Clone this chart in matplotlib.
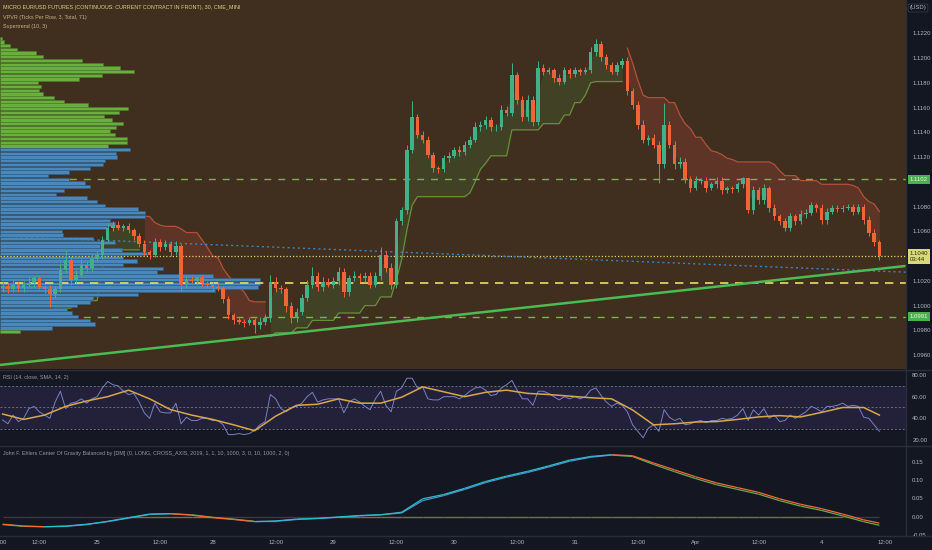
import numpy as np
import matplotlib
matplotlib.use("Agg")
import matplotlib.pyplot as plt
from matplotlib.patches import Rectangle
from matplotlib.collections import LineCollection
from matplotlib.transforms import blended_transform_factory

plt.rcParams['font.family'] = ['Liberation Sans', 'DejaVu Sans']

# ---------------- data (hourly candles, Micro EUR/USD) ----------------
first_open = 1.1014
closes = [
    1.1016, 1.1013, 1.1017, 1.1014, 1.1017, 1.1018, 1.1022, 1.1015, 1.1013, 1.1009,
    1.1013, 1.1029, 1.1037, 1.1021, 1.1025, 1.1033, 1.1030, 1.1038, 1.1041, 1.1053,
    1.1063, 1.1065, 1.1063, 1.1064, 1.1061, 1.1056, 1.1050, 1.1043, 1.1041, 1.1051,
    1.1047, 1.1050, 1.1043, 1.1048, 1.1017, 1.1021, 1.1020, 1.1022, 1.1018, 1.1017,
    1.1015, 1.1014, 1.1005, 1.0992, 1.0988, 1.0987, 1.0986, 1.0988, 1.0984, 1.0987,
    1.0990, 1.1019, 1.1014, 1.1013, 1.1000, 1.0990, 1.0995, 1.1006, 1.1017, 1.1024,
    1.1015, 1.1019, 1.1017, 1.1020, 1.1027, 1.1011, 1.1022, 1.1024, 1.1022, 1.1024,
    1.1017, 1.1024, 1.1041, 1.1030, 1.1017, 1.1068, 1.1077, 1.1126, 1.1152, 1.1138,
    1.1134, 1.1122, 1.1111, 1.1110, 1.1119, 1.1121, 1.1126, 1.1124, 1.1130, 1.1134,
    1.1144, 1.1146, 1.1150, 1.1144, 1.1144, 1.1158, 1.1156, 1.1186, 1.1166, 1.1152,
    1.1166, 1.1148, 1.1192, 1.1189, 1.1190, 1.1184, 1.1181, 1.1190, 1.1187, 1.1190,
    1.1189, 1.1190, 1.1205, 1.1211, 1.1201, 1.1194, 1.1189, 1.1194, 1.1198, 1.1173,
    1.1162, 1.1146, 1.1134, 1.1135, 1.1130, 1.1114, 1.1146, 1.1130, 1.1114, 1.1116,
    1.1102, 1.1095, 1.1101, 1.1101, 1.1095, 1.1098, 1.1101, 1.1093, 1.1095, 1.1094,
    1.1098, 1.1103, 1.1077, 1.1093, 1.1085, 1.1095, 1.1079, 1.1072, 1.1068, 1.1063,
    1.1072, 1.1068, 1.1074, 1.1075, 1.1081, 1.1079, 1.1069, 1.1076, 1.1079, 1.1078,
    1.1079, 1.1080, 1.1076, 1.1080, 1.1069, 1.1059, 1.1051, 1.1040,
]
# wick lengths above / below the body, in ticks of 0.0001
upper_wick = [
    3, 2, 4, 2, 3, 5, 2, 3, 2, 4,
    3, 5, 8, 3, 4, 5, 3, 4, 3, 3,
    4, 3, 3, 2, 3, 2, 3, 3, 2, 4,
    3, 3, 2, 4, 2, 3, 3, 2, 3, 2,
    2, 3, 2, 3, 2, 3, 2, 3, 2, 4,
    3, 6, 4, 3, 2, 3, 3, 3, 4, 7,
    3, 4, 3, 3, 4, 3, 3, 4, 2, 3,
    3, 3, 6, 3, 4, 3, 3, 4, 13, 3,
    3, 3, 2, 2, 3, 3, 2, 3, 3, 3,
    4, 3, 3, 2, 3, 4, 3, 10, 3, 3,
    4, 3, 6, 3, 3, 2, 3, 3, 2, 3,
    2, 3, 4, 4, 3, 2, 3, 3, 2, 3,
    3, 3, 4, 3, 4, 3, 18, 3, 3, 4,
    3, 3, 4, 2, 3, 2, 3, 3, 2, 2,
    2, 1, 0, 4, 3, 3, 2, 3, 2, 3,
    3, 2, 3, 3, 3, 2, 3, 3, 2, 2,
    2, 2, 2, 2, 2, 3, 3, 2,
]
lower_wick = [
    3, 3, 2, 3, 3, 2, 3, 2, 3, 10,
    3, 2, 3, 4, 3, 2, 3, 3, 2, 3,
    2, 3, 2, 3, 2, 3, 3, 2, 3, 2,
    3, 2, 3, 2, 5, 3, 2, 3, 2, 3,
    3, 2, 3, 3, 3, 2, 3, 2, 6, 3,
    3, 3, 3, 3, 5, 4, 3, 3, 2, 3,
    3, 3, 2, 3, 3, 4, 3, 2, 3, 3,
    3, 2, 3, 3, 4, 3, 3, 3, 3, 3,
    3, 3, 3, 3, 2, 3, 2, 3, 2, 3,
    2, 3, 3, 3, 3, 2, 3, 3, 3, 3,
    3, 3, 2, 3, 2, 3, 3, 2, 3, 2,
    3, 2, 2, 3, 3, 3, 2, 3, 2, 3,
    3, 3, 3, 4, 3, 15, 3, 3, 4, 3,
    3, 3, 2, 3, 3, 2, 3, 3, 2, 3,
    2, 3, 2, 3, 3, 3, 3, 3, 3, 3,
    3, 3, 2, 3, 2, 3, 3, 3, 2, 2,
    2, 2, 3, 2, 3, 3, 3, 3,
]
supertrend = [
    1.0995, 1.0995, 1.0995, 1.0995, 1.0995, 1.0995, 1.0995, 1.0995, 1.0995, 1.0995,
    1.0998, 1.0998, 1.0998, 1.0998, 1.1002, 1.1002, 1.1002, 1.1004, 1.1004, 1.1029,
    1.1041, 1.1045, 1.1045, 1.1045, 1.1045, 1.1045, 1.1045, 1.1072, 1.1072, 1.1067,
    1.1065, 1.1064, 1.1064, 1.1064, 1.1062, 1.1059, 1.1059, 1.1059, 1.1053, 1.1047,
    1.1040, 1.1039, 1.1030, 1.1024, 1.1019, 1.1015, 1.1011, 1.1004, 1.1003, 1.1003,
    1.1003, 1.0975, 1.0978, 1.0978, 1.0978, 1.0978, 1.0982, 1.0982, 1.0982, 1.0988,
    1.0988, 1.0988, 1.0988, 1.0988, 1.0994, 1.0994, 1.0994, 1.0994, 1.0994, 1.1000,
    1.1000, 1.1000, 1.1007, 1.1007, 1.1007, 1.1021, 1.1037, 1.1061, 1.1081, 1.1088,
    1.1088, 1.1088, 1.1088, 1.1088, 1.1088, 1.1088, 1.1088, 1.1088, 1.1088, 1.1091,
    1.1100, 1.1110, 1.1115, 1.1121, 1.1121, 1.1121, 1.1121, 1.1142, 1.1142, 1.1142,
    1.1142, 1.1142, 1.1142, 1.1147, 1.1147, 1.1147, 1.1147, 1.1154, 1.1154, 1.1164,
    1.1164, 1.1170, 1.1180, 1.1181, 1.1181, 1.1181, 1.1181, 1.1181, 1.1181, 1.1208,
    1.1196, 1.1182, 1.1170, 1.1168, 1.1168, 1.1168, 1.1168, 1.1164, 1.1164, 1.1154,
    1.1147, 1.1143, 1.1136, 1.1136, 1.1130, 1.1125, 1.1124, 1.1122, 1.1119, 1.1118,
    1.1116, 1.1116, 1.1116, 1.1116, 1.1116, 1.1116, 1.1116, 1.1114, 1.1109, 1.1105,
    1.1105, 1.1105, 1.1101, 1.1101, 1.1101, 1.1101, 1.1098, 1.1098, 1.1098, 1.1098,
    1.1098, 1.1098, 1.1097, 1.1095, 1.1088, 1.1084, 1.1082, 1.1076,
]
# volume profile rows (top row first), 3 ticks per row
vp_top_price = 1.1216
vp_row_size = 0.0003
vp_volume = [
    2, 4, 10, 17, 36, 43, 82, 103, 120, 134, 102, 79, 38, 41, 39, 43, 54, 64, 88, 128,
    119, 104, 112, 123, 116, 110, 115, 127, 127, 108,
    130, 116, 117, 105, 103, 90, 69, 48, 69, 85, 90, 64, 56, 87, 97, 105, 138,
    145, 145, 110, 115, 107, 62, 63, 93, 115, 100, 122, 147, 123, 137, 123, 163, 157, 213, 260,
    260, 258, 215, 138, 93, 90, 77, 67, 72, 78, 90, 95, 52, 20,
]
value_area_rows = (30, 78)  # top-down row indices inside the value area
levels_green = [1.1102, 1.0991]
level_poc = 1.1018
last_price = 1.1040
countdown = "03:44"
trend_green_x = [-0.5, 172.0]
trend_green_y = [1.0952, 1.1032]
trend_blue_x = [-0.5, 172.0]
trend_blue_y = [1.1056, 1.1027]

rsi = [
    38.5, 35, 43, 37, 40, 49, 51, 46, 43, 40,
    55, 65, 49, 54, 55, 58, 54, 58, 60, 68,
    74, 71, 70, 65, 62, 63, 55, 45, 40, 54,
    46, 45, 45, 54, 35, 41, 38, 38, 40, 40,
    38, 38, 34, 25, 25, 26, 25, 26, 29, 34,
    37, 62, 58, 49, 46, 50, 51, 54, 60, 64,
    55, 57, 58, 58, 58, 45, 55, 58, 55, 51,
    48, 58, 65, 52, 46, 65, 68, 77, 77, 68,
    69, 58, 57, 57, 60, 60, 60, 58, 61, 65,
    68, 69, 66, 61, 62, 68, 71, 75, 66, 58,
    58, 52, 65, 65, 63, 60, 57, 60, 58, 60,
    58, 60, 66, 68, 61, 55, 51, 54, 52, 46,
    34, 28, 22, 31, 34, 28, 48, 41, 38, 40,
    34, 35, 37, 38, 36, 38, 38, 40, 39, 40,
    43, 49, 38, 48, 43, 49, 40, 43, 37, 38,
    43, 40, 43, 46, 51, 49, 46, 51, 51, 52,
    54, 51, 52, 51, 41, 40, 34, 28,
]
# smoothed series sampled every 4 bars (plus last bar)
rsi_ma = [44, 39, 43, 51, 56, 60, 66, 58, 48, 43, 39, 34, 28.6, 42, 52, 53, 58, 54, 54, 59.5,
          69, 64.5, 60, 64, 66, 63, 62, 60.5, 59, 58, 47.7, 34, 35, 36.6, 37, 39, 41.3, 42.5,
          41.3, 45.5, 50, 50, 43]
cog = [-0.021, -0.026, -0.028, -0.027, -0.022, -0.013, -0.003, 0.007, 0.008, 0.004,
       -0.003, -0.008, -0.014, -0.012, -0.007, -0.005, -0.001, 0.003, 0.005, 0.012,
       0.049, 0.061, 0.078, 0.097, 0.112, 0.125, 0.140, 0.156, 0.166, 0.171,
       0.168, 0.148, 0.129, 0.110, 0.093, 0.080, 0.067, 0.049, 0.034, 0.022,
       0.007, -0.009, -0.018]
cog_trigger = [-0.022, -0.027, -0.028, -0.026, -0.021, -0.014, -0.004, 0.006, 0.008, 0.005,
               -0.002, -0.007, -0.013, -0.013, -0.008, -0.005, -0.002, 0.002, 0.005, 0.010,
               0.044, 0.058, 0.075, 0.094, 0.109, 0.122, 0.137, 0.153, 0.164, 0.170,
               0.166, 0.144, 0.124, 0.105, 0.088, 0.075, 0.062, 0.044, 0.029, 0.017,
               0.002, -0.014, -0.024]

time_labels = [":00", "12:00", "25", "12:00", "28", "12:00", "29", "12:00", "30",
               "12:00", "31", "12:00", "Apr", "12:00", "4", "12:00"]
time_label_bars = [0.0, 7, 18, 30, 40, 52, 63, 75, 86, 98, 109, 121, 132, 144, 156, 168]
price_ticks = [1.1220, 1.1200, 1.1180, 1.1160, 1.1140, 1.1120, 1.1080, 1.1060,
               1.1020, 1.1000, 1.0980, 1.0960]
rsi_ticks = [80, 60, 40, 20]
cog_ticks = [0.15, 0.10, 0.05, 0.00, -0.05]

title_main = "MICRO EUR/USD FUTURES (CONTINUOUS: CURRENT CONTRACT IN FRONT), 30, CME_MINI"
title_vpvr = "VPVR (Ticks Per Row, 3, Total, 71)"
title_st = "Supertrend (10, 3)"
title_rsi = "RSI (14, close, SMA, 14, 2)"
title_cog = ("John F. Ehlers Center Of Gravity Balanced by [DM] (0, LONG, CROSS_AXIS, 2019, 1, 1, "
             "10, 1000, 3, 0, 10, 1000, 2, 0)")

assert len(closes) == len(upper_wick) == len(lower_wick) == len(supertrend) == len(rsi)

# ---------------- style ----------------
W, H = 932, 550
PLOT_R = 906
PX_PER_BAR = 5.25
TICK = 0.0001
BROWN = "#402f1e"
AXIS_BG = "#131722"
RSI_BG = "#151823"
COG_BG = "#141722"
SEP = "#2a2e39"
TXT = "#b2b5be"
UP = "#44b08a"
DN = "#f0643a"
FS = 4.3
TFS = 3.85

N = len(closes)
c = np.array(closes)
o = np.array([first_open] + closes[:-1])
hi = np.maximum(o, c) + np.array(upper_wick) * TICK
lo = np.minimum(o, c) - np.array(lower_wick) * TICK
xb = np.arange(N)
xlim = (-0.5, PLOT_R / PX_PER_BAR - 0.5)

fig = plt.figure(figsize=(W / 100, H / 100), dpi=100)
fig.patch.set_facecolor(AXIS_BG)


def pane(y0, y1, face):
    a = fig.add_axes([0, 1 - y1 / H, PLOT_R / W, (y1 - y0) / H])
    a.set_facecolor(face)
    for s in a.spines.values():
        s.set_visible(False)
    a.set_xlim(*xlim)
    a.yaxis.tick_right()
    a.tick_params(axis='y', length=0, pad=4.5, labelsize=FS, labelcolor=TXT)
    a.tick_params(axis='x', length=0, labelsize=FS, labelcolor=TXT)
    return a


# ---------------- main pane ----------------
ax = pane(0, 369, BROWN)
ax.set_ylim(1.12469 - 369 * 0.0000808, 1.12469)
ax.set_xticks([])
ax.set_yticks(price_ticks)
ax.set_yticklabels([f"{p:.4f}" for p in price_ticks])

# supertrend with fills
mid = (o + c) / 2
st = np.array(supertrend)
upd = st < c
s0 = 0
for i in range(1, N + 1):
    if i == N or upd[i] != upd[s0]:
        idx = np.arange(s0, i)
        if upd[s0]:
            lc, fc = "#678f3a", (0.30, 0.69, 0.31, 0.15)
        else:
            lc, fc = "#b4503a", (1.0, 0.32, 0.32, 0.16)
        ax.fill_between(idx, st[idx], mid[idx], color=fc, lw=0, zorder=1.5)
        ax.plot(idx, st[idx], color=lc, lw=0.9, zorder=1.6)
        s0 = i

# green dashed levels (under the profile)
for lv in levels_green:
    ax.axhline(lv, color="#7cb342", lw=1.0, dashes=(5, 5), zorder=2)

# volume profile
tr = blended_transform_factory(ax.transAxes, ax.transData)
vmax = max(vp_volume)
for r, v in enumerate(vp_volume):
    p = vp_top_price - r * vp_row_size
    inside = value_area_rows[0] <= r <= value_area_rows[1]
    fcol = "#4a87ba" if inside else "#6aaf3d"
    ecol = "#2f5d85" if inside else "#4a7f2a"
    ax.add_patch(Rectangle((0, p - vp_row_size * 0.45), v / vmax * 0.287, vp_row_size * 0.9,
                           transform=tr, facecolor=fcol, edgecolor=ecol, lw=0.4, zorder=3))

# other lines
ax.axhline(level_poc, color="#e4e06c", lw=1.2, dashes=(5, 4), zorder=3.5)
ax.axhline(last_price, color="#d8d46c", lw=0.9, dashes=(1, 1.6), zorder=3.5)
ax.plot(trend_blue_x, trend_blue_y, color="#3c84be", lw=1.0, dashes=(1.5, 2.2), zorder=3.5)

# candles
cols = np.where(c >= o, UP, DN)
ax.vlines(xb, lo, hi, colors=cols, lw=0.7, zorder=4)
body = np.maximum(np.abs(c - o), 0.00003)
ax.bar(xb, body, bottom=np.minimum(o, c), width=0.62, color=cols, lw=0, zorder=5)

ax.plot(trend_green_x, trend_green_y, color="#4cbb55", lw=1.8, zorder=6, solid_capstyle='butt')


def tag(a, price, text, fc, tc, va='center', dy=0):
    a.annotate(text, xy=(1, price), xycoords=('axes fraction', 'data'), xytext=(2.6, dy),
               textcoords='offset points', ha='left', va=va, fontsize=FS, color=tc,
               linespacing=1.3, annotation_clip=False,
               bbox=dict(boxstyle='square,pad=0.35', fc=fc, ec='none'))


for lv in levels_green:
    tag(ax, lv, f"{lv:.4f}", "#4caf50", "#e9f5e0")
tag(ax, last_price, f"{last_price:.4f}\n{countdown}", "#d9d97a", "#2a2a18", va='top', dy=3.5)

fig.text(3 / W, 1 - 7 / H, title_main, fontsize=TFS, color="#d8cf86", va='center')
fig.text(3 / W, 1 - 17 / H, title_vpvr, fontsize=TFS, color="#c4b48c", va='center')
fig.text(3 / W, 1 - 26.5 / H, title_st, fontsize=TFS, color="#c4b48c", va='center')
fig.text(918 / W, 1 - 8 / H, "(USD)", fontsize=FS, color=TXT, va='center', ha='center',
         bbox=dict(boxstyle='round,pad=0.25', fc='none', ec='#3a3e4a', lw=0.5))

# ---------------- RSI pane ----------------
ar = pane(370, 445, RSI_BG)
ar.set_ylim(15.4, 84.6)
ar.set_xticks([])
ar.axhspan(30, 70, color="#7e57c2", alpha=0.14, lw=0, zorder=0)
for lv in (70, 50, 30):
    ar.axhline(lv, color="#6b6e7a", lw=0.7, dashes=(2, 2), zorder=1)
ar.plot(xb, rsi, color="#7a80c4", lw=0.7, zorder=2)
ma_x = np.r_[np.arange(0, N, 4), N - 1]
ar.plot(ma_x, rsi_ma, color="#d6a84c", lw=1.1, zorder=3)
ar.set_yticks(rsi_ticks)
ar.set_yticklabels([f"{v:.2f}" for v in rsi_ticks])
fig.text(3 / W, 1 - 378 / H, title_rsi, fontsize=TFS, color="#9598a1", va='center')

# ---------------- COG pane ----------------
ae = pane(446, 536, COG_BG)
ae.set_ylim(-0.0536, 0.195)
cg = np.array(cog)
tg = np.array(cog_trigger)
zero_cols = ["#8a6a26" if (cg[k] + cg[k + 1]) > 0 else "#5a2848" for k in range(len(cg) - 1)]
ae.add_collection(LineCollection([[(ma_x[k], 0), (ma_x[k + 1], 0)] for k in range(len(cg) - 1)],
                                 colors=zero_cols, lw=1.0, zorder=1))
rising = [cg[k + 1] >= cg[k] for k in range(len(cg) - 1)]
seg_t = [[(ma_x[k], tg[k]), (ma_x[k + 1], tg[k + 1])] for k in range(len(cg) - 1)]
seg_c = [[(ma_x[k], cg[k]), (ma_x[k + 1], cg[k + 1])] for k in range(len(cg) - 1)]
ae.add_collection(LineCollection(seg_t, colors=["#4f8fd6" if r else "#6aa84f" for r in rising],
                                 lw=0.9, zorder=2))
ae.add_collection(LineCollection(seg_c, colors=["#2fbcc4" if r else "#ef6a38" for r in rising],
                                 lw=0.9, zorder=3))
ae.set_yticks(cog_ticks)
ae.set_yticklabels([f"{v:.2f}" for v in cog_ticks])
ae.set_xticks(time_label_bars)
ae.set_xticklabels(time_labels)
ae.tick_params(axis='x', pad=2.6)
fig.text(3 / W, 1 - 454 / H, title_cog, fontsize=TFS, color="#9598a1", va='center')

# separators
for yy in (369.5, 445.5, 536):
    fig.add_artist(plt.Line2D([0, 1], [1 - yy / H] * 2, color=SEP, lw=1.0))
fig.add_artist(plt.Line2D([PLOT_R / W] * 2, [1 - 536 / H, 1], color=SEP, lw=1.0))

fig.savefig("out.png", dpi=100, facecolor=fig.get_facecolor())
